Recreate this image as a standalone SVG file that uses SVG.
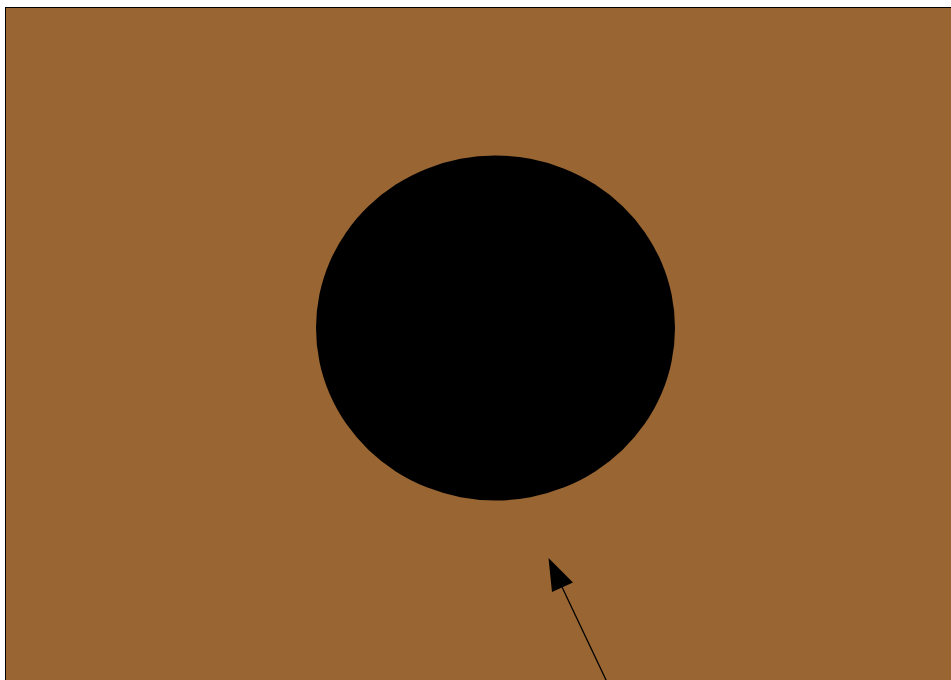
<svg xmlns="http://www.w3.org/2000/svg" width="951" height="680" viewBox="0 0 951 680">
<defs>
<style>
.bg{fill:#996633;stroke:#000;stroke-width:1}
.conn{stroke:#000;stroke-width:1.3;fill:none}
</style>
<marker id="ah" markerWidth="10" markerHeight="10" refX="0" refY="0" orient="auto" markerUnits="userSpaceOnUse" viewBox="-40 -15 45 30" overflow="visible">
<path d="M0,0 L-34,-11 L-34,11 Z" fill="#000"/>
</marker>
</defs>
<rect class="bg" x="5.5" y="7.5" width="960" height="700"/>
<g id="node-circle">
<ellipse cx="495.5" cy="328" rx="179.5" ry="172.5" fill="#000"/>
</g>
<g id="connectors">
<line class="conn" x1="607" y1="682" x2="562" y2="587"/>
<path d="M548.5,558 L552,592 L573,582.5 Z" fill="#000"/>
</g>
</svg>
